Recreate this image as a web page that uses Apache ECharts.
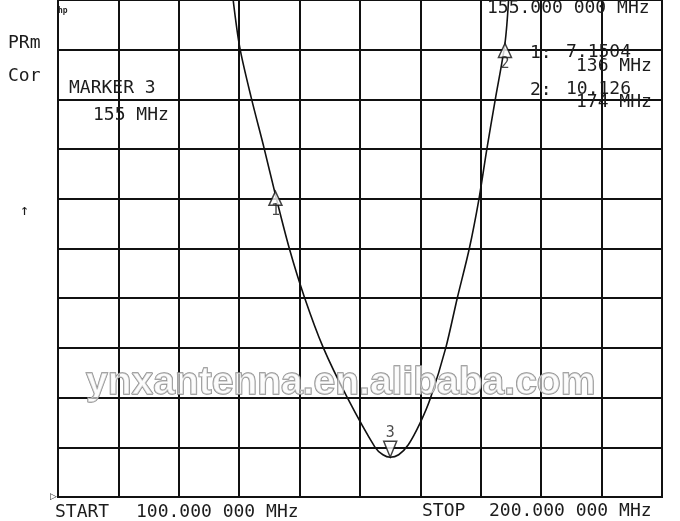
<!DOCTYPE html>
<html>
<head>
<meta charset="utf-8">
<script src="https://cdn.jsdelivr.net/npm/echarts@6/dist/echarts.min.js"></script>
<style>
html,body{margin:0;padding:0;background:#fff;}
#chart{width:680px;height:521px;}
</style>
</head>
<body>
<div id="chart"></div>
<script>
// Frequency sweep (MHz) and traced SWR values
const freqMHz = [129.0, 130.1, 132.0, 134.1, 136.0, 138.3, 140.8, 143.9, 147.9, 152.5, 153.8, 155.0, 156.4, 158.0, 160.0, 161.7, 164.2, 166.1, 168.1, 169.7, 171.0, 172.4, 174.0, 174.6];
const swrValues = [11.0, 10.04, 9.03, 8.03, 7.08, 6.0, 5.02, 4.01, 3.0, 2.0, 1.85, 1.8, 1.85, 2.05, 2.5, 3.0, 4.0, 5.0, 6.0, 7.0, 8.0, 9.0, 10.126, 11.0];
// Markers
const markerNames = ['1', '2', '3'];
const markerFreqs = [136, 174, 155];
const markerVals = [7.1504, 10.126, 1.8];
// Axis
const xMin = 100, xMax = 200, xStep = 10;
const yMin = 1, yMax = 11, yStep = 1;

const MONO = '"DejaVu Sans Mono", monospace';
const INK = '#1c1c1c';

const chart = echarts.init(document.getElementById('chart'), null, {renderer: 'canvas'});

function txt(text, x, y, size) {
  return {
    type: 'text', z: 50,
    style: {text: text, x: x, y: y, font: (size || 18) + 'px ' + MONO, fill: INK,
            align: 'left', verticalAlign: 'middle', textAlign: 'left', textVerticalAlign: 'middle'}
  };
}

const upMarkers = [], downMarkers = [];
markerNames.forEach((n, i) => {
  const d = {value: [markerFreqs[i], markerVals[i]], name: n};
  if (i === 2) downMarkers.push(d); else upMarkers.push(d);
});

chart.setOption({
  backgroundColor: '#ffffff',
  animation: false,
  grid: {left: 58, right: 18, top: -2, bottom: 24, show: true, borderColor: '#111', borderWidth: 2, containLabel: false},
  xAxis: {
    type: 'value', min: xMin, max: xMax, interval: xStep,
    axisLine: {show: true, lineStyle: {color: '#111', width: 2}},
    axisTick: {show: false}, axisLabel: {show: false},
    splitLine: {show: true, lineStyle: {color: '#111', width: 2}}
  },
  yAxis: {
    type: 'value', min: yMin, max: yMax, interval: yStep,
    axisLine: {show: true, lineStyle: {color: '#111', width: 2}},
    axisTick: {show: false},
    axisLabel: {show: true, margin: 1, fontSize: 9, color: INK,
      formatter: v => (v === yMin ? '\u25B7' : '')},
    splitLine: {show: true, lineStyle: {color: '#111', width: 2}}
  },
  series: [
    {
      type: 'line', data: freqMHz.map((f, i) => [f, swrValues[i]]),
      smooth: 0.3, showSymbol: false, clip: true,
      lineStyle: {color: '#111', width: 1.6}, z: 5
    },
    {
      type: 'scatter', data: upMarkers, symbol: 'triangle', symbolSize: [13, 14],
      symbolOffset: [0, '50%'], clip: false, z: 6,
      itemStyle: {color: '#fff', borderColor: '#111', borderWidth: 1.5},
      label: {show: true, formatter: p => p.name, position: 'bottom', distance: -2,
        fontFamily: MONO, fontSize: 15, color: INK}
    },
    {
      type: 'scatter', data: downMarkers, symbol: 'triangle', symbolSize: [13, 16],
      symbolRotate: 180, symbolOffset: [0, '-50%'], clip: false, z: 6,
      itemStyle: {color: '#fff', borderColor: '#111', borderWidth: 1.5},
      label: {show: true, formatter: p => p.name, position: 'top', distance: 0,
        fontFamily: MONO, fontSize: 15, color: INK}
    }
  ],
  graphic: [
    {type: 'text', z: 50, style: {text: 'hp', x: 58, y: 11, font: 'bold 8px ' + MONO, fill: INK, align: 'left', verticalAlign: 'middle'}},
    txt('PRm', 8, 43),
    txt('Cor', 8, 76),
    txt('MARKER 3', 69, 88),
    txt('155 MHz', 93, 115),
    txt('\u2191', 20, 211, 15),
    txt('155.000 000 MHz', 487, 8),
    txt('1:', 530, 53),
    txt('7.1504', 566, 52),
    txt('136 MHz', 576, 66),
    txt('2:', 530, 90),
    txt('10.126', 566, 89),
    txt('174 MHz', 576, 102),
    txt('START', 55, 512),
    txt('100.000 000 MHz', 136, 512),
    txt('STOP', 422, 511),
    txt('200.000 000 MHz', 489, 511),
    {
      type: 'text', z: 60, x: 86, y: 403,
      style: {text: 'ynxantenna.en.alibaba.com', x: 0, y: 0,
        font: 'bold 39px "Liberation Sans", Arial, sans-serif',
        fill: 'rgba(250,250,250,0.6)', stroke: '#8a8a8a', lineWidth: 1.4,
        align: 'left', verticalAlign: 'bottom', textAlign: 'left', textVerticalAlign: 'bottom'}
    }
  ]
});
</script>
</body>
</html>
